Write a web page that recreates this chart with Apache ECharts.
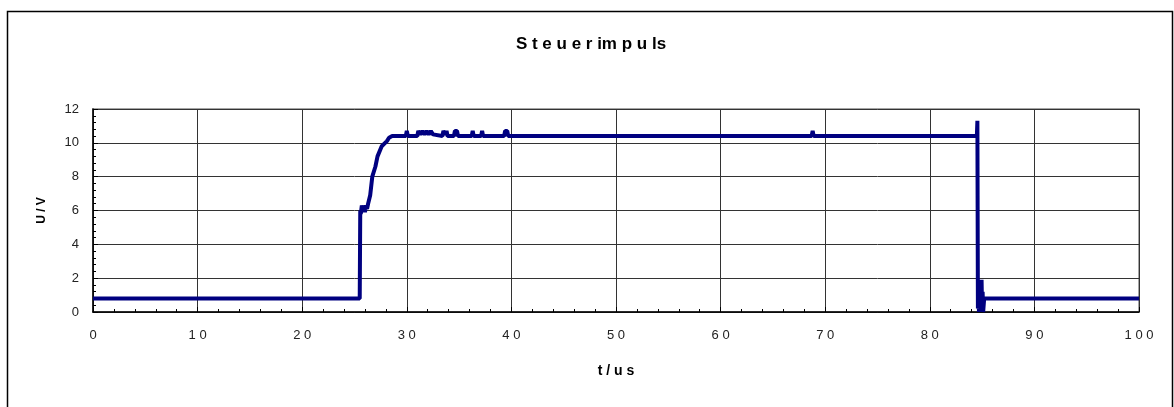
<!DOCTYPE html>
<html>
<head>
<meta charset="utf-8">
<script src="https://cdn.jsdelivr.net/npm/echarts@6/dist/echarts.min.js"></script>
<style>html,body{margin:0;padding:0;background:#fff}#c{width:1174px;height:407px}</style>
</head>
<body>
<div id="c"></div>
<script>
var titleText = 'S t e u e r im p u ls';
var xAxisName = 't / u s';
var yAxisName = 'U / V';
var xTicks = [0, 10, 20, 30, 40, 50, 60, 70, 80, 90, 100];
var yTicks = [0, 2, 4, 6, 8, 10, 12];
// time in us
var tValues = [0, 25.5, 25.55, 25.6, 25.7, 25.8, 25.9, 26.0, 26.1, 26.2, 26.3, 26.5, 26.7, 27.0, 27.2, 27.6, 28.1, 28.3, 28.6,
  29.9, 30.0, 30.1, 31.0, 31.1, 31.3, 31.5, 31.7, 31.9, 32.1, 32.3, 32.5, 32.6, 33.4, 33.5, 33.7, 33.8, 33.9,
  34.5, 34.6, 34.8, 34.9, 36.2, 36.3, 36.4, 37.1, 37.2, 37.3, 39.3, 39.4, 39.6, 39.7, 68.7, 68.8, 68.9,
  84.5, 84.55, 84.6, 84.65, 84.7, 84.75, 84.8, 84.85, 84.9, 84.95, 85.0, 85.05, 85.1, 85.2, 100];
var uValues = [0.8, 0.8, 6.0, 5.8, 6.3, 6.0, 6.2, 5.9, 6.3, 6.1, 6.4, 6.9, 8.0, 8.6, 9.2, 9.8, 10.1, 10.3, 10.4,
  10.4, 10.7, 10.4, 10.4, 10.7, 10.5, 10.7, 10.5, 10.7, 10.5, 10.7, 10.5, 10.4, 10.4, 10.7, 10.5, 10.7, 10.4,
  10.4, 10.7, 10.7, 10.4, 10.4, 10.7, 10.4, 10.4, 10.7, 10.4, 10.4, 10.7, 10.7, 10.4, 10.4, 10.7, 10.4,
  10.4, 11.3, 0.2, 1.9, 0.0, 1.8, 0.3, 1.5, 0.0, 1.9, 0.1, 1.2, 0.0, 0.8, 0.8];

var data = tValues.map(function (t, i) { return [t, uValues[i]]; });
var chart = echarts.init(document.getElementById('c'), null, {renderer: 'canvas'});
var fontN = '"Liberation Sans Narrow", "Liberation Sans", sans-serif';
chart.setOption({
  backgroundColor: '#ffffff',
  animation: false,
  title: {
    text: titleText, left: 586, top: 31, textAlign: 'center',
    textStyle: {fontFamily: fontN, fontSize: 17, fontWeight: 'bold', color: '#000'}
  },
  graphic: [{
    type: 'rect', left: 5, top: 9, shape: {x: 0, y: 0, width: 1165, height: 410},
    style: {fill: 'none', stroke: '#000', lineWidth: 1.5}, silent: true
  }],
  grid: {left: 93, right: 35, top: 109, bottom: 95, show: true, borderColor: '#888', borderWidth: 1.5},
  xAxis: {
    type: 'value', min: 0, max: 100, interval: 10,
    name: xAxisName, nameLocation: 'middle', nameGap: 52,
    nameTextStyle: {fontFamily: fontN, fontSize: 14, fontWeight: 'bold', color: '#000'},
    axisLine: {show: true, lineStyle: {color: '#000', width: 1.5}},
    axisTick: {show: true, inside: true, length: 5, lineStyle: {color: '#000'}},
    minorTick: {show: true, splitNumber: 5, length: 3, lineStyle: {color: '#000'}},
    splitLine: {show: true, lineStyle: {color: '#333', width: 1}},
    axisLabel: {
      margin: 17, fontFamily: fontN, fontSize: 13, color: '#222',
      formatter: function (v) { return xTicks.indexOf(v) >= 0 ? String(v).split('').join(' ') : ''; }
    }
  },
  yAxis: {
    type: 'value', min: 0, max: 12, interval: 2,
    name: yAxisName, nameLocation: 'middle', nameGap: 45, nameRotate: 90,
    nameTextStyle: {fontFamily: fontN, fontSize: 12, fontWeight: 'bold', color: '#000'},
    axisLine: {show: true, lineStyle: {color: '#000', width: 1.5}},
    axisTick: {show: true, inside: true, length: 5, lineStyle: {color: '#000'}},
    minorTick: {show: true, splitNumber: 5, length: 3, lineStyle: {color: '#000'}},
    splitLine: {show: true, lineStyle: {color: '#333', width: 1}},
    axisLabel: {
      margin: 14, fontFamily: fontN, fontSize: 13, color: '#222',
      formatter: function (v) { return yTicks.indexOf(v) >= 0 ? String(v) : ''; }
    }
  },
  series: [{
    type: 'line', data: data, showSymbol: false, symbol: 'none',
    lineStyle: {color: '#000080', width: 4}, z: 5
  }]
});
</script>
</body>
</html>
